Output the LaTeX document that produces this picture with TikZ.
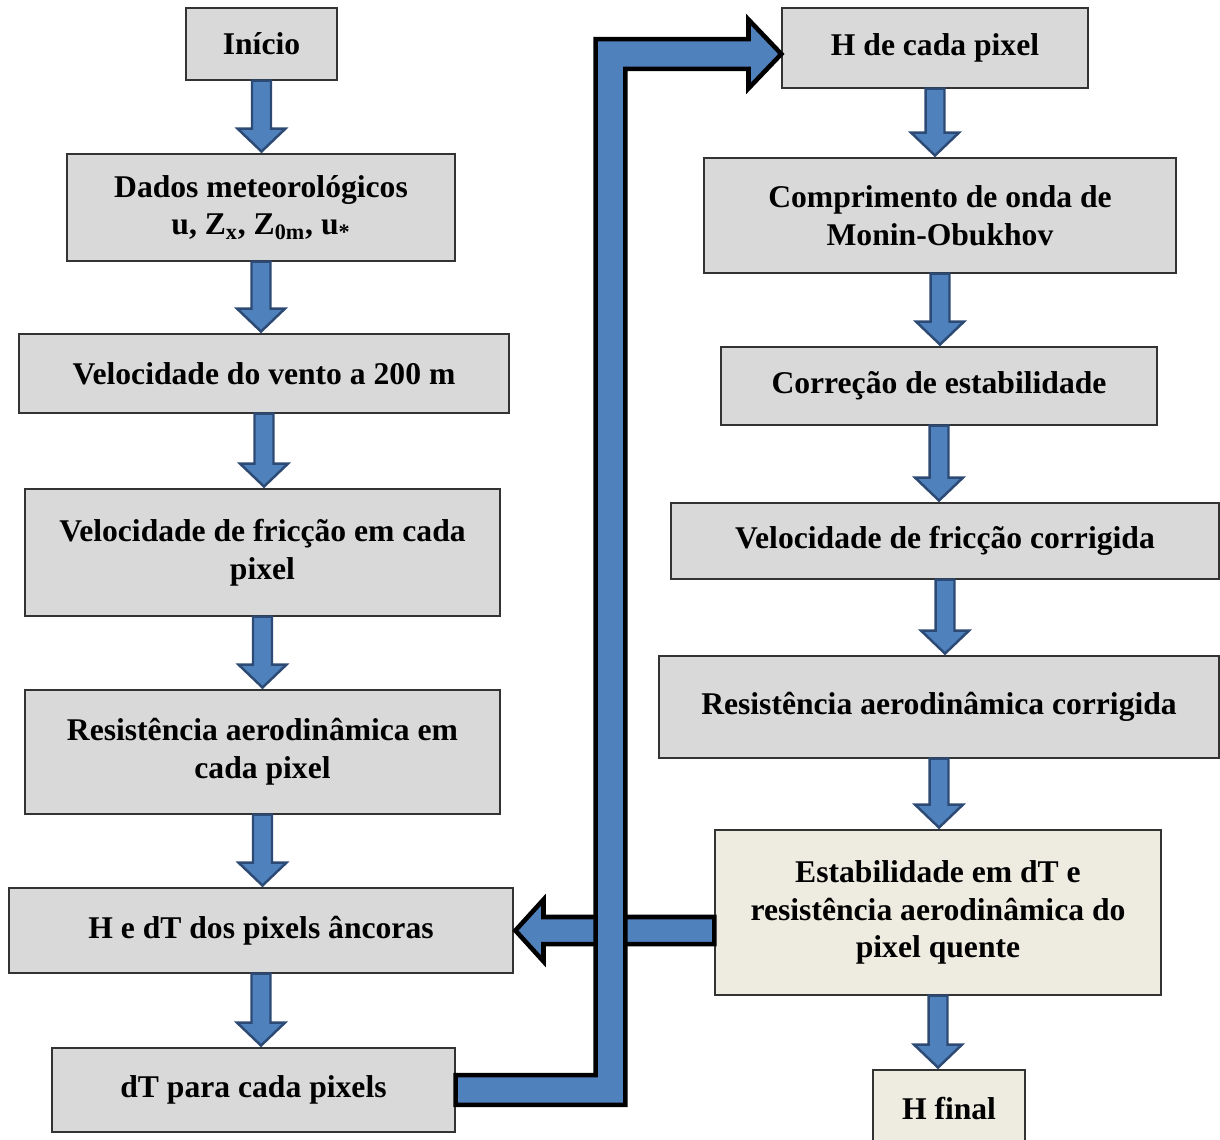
\documentclass[tikz,border=0pt]{standalone}
\usepackage{fontspec}
\setmainfont{Liberation Serif}
\usepackage{tikz}
\usetikzlibrary{positioning, calc}
\definecolor{boxgray}{RGB}{217,217,217}
\definecolor{boxbeige}{RGB}{238,236,225}
\definecolor{arrblue}{RGB}{79,129,189}
\definecolor{arrdark}{RGB}{44,74,116}

\begin{document}
\begin{tikzpicture}[x=0.02cm, y=-0.02cm,
    box/.style={draw=black!80, line width=0.8pt, fill=boxgray, align=center,
      inner sep=0pt, font=\fontsize{18}{21.5}\selectfont\bfseries},
    finalbox/.style={box, fill=boxbeige},
    downarr/.style={draw=arrdark, line width=1.4pt, fill=arrblue, line join=miter},
    bigarr/.style={draw=black, line width=2.6pt, fill=arrblue, line join=miter}]
        \useasboundingbox (0,0) rectangle (1220,1139);
        \clip (0,0) rectangle (1220,1139);

        % left column
        \node[box, minimum width=3.02cm, minimum height=1.44cm] (start) at (261.5,44) {Início};
        \node[box, minimum width=7.76cm, minimum height=2.14cm] (dados) at (261,207.5)
          {Dados meteorológicos\\u, Z\textsubscript{x}, Z\textsubscript{0m}, u\textsubscript{*}};
        \node[box, minimum width=9.8cm, minimum height=1.58cm] (vento) at (264,373.5)
          {Velocidade do vento a 200 m};
        \node[box, minimum width=9.5cm, minimum height=2.54cm] (friccao) at (262.5,552.5)
          {Velocidade de fricção em cada\\pixel};
        \node[box, minimum width=9.5cm, minimum height=2.48cm] (resist) at (262.5,752)
          {Resistência aerodinâmica em\\cada pixel};
        \node[box, minimum width=10.08cm, minimum height=1.7cm] (ancoras) at (261,930.5)
          {H e dT dos pixels âncoras};
        \node[box, minimum width=8.06cm, minimum height=1.68cm] (dtpix) at (253.5,1090)
          {dT para cada pixels};

        % right column
        \node[box, minimum width=6.12cm, minimum height=1.6cm] (hpix) at (935,48)
          {H de cada pixel};
        \node[box, minimum width=9.44cm, minimum height=2.3cm] (monin) at (940,215.5)
          {Comprimento de onda de\\Monin-Obukhov};
        \node[box, minimum width=8.72cm, minimum height=1.56cm] (correcao) at (939,386)
          {Correção de estabilidade};
        \node[box, minimum width=10.96cm, minimum height=1.52cm] (velcorr) at (945,541)
          {Velocidade de fricção corrigida};
        \node[box, minimum width=11.2cm, minimum height=2.04cm] (rescorr) at (939,707)
          {Resistência aerodinâmica corrigida};
        \node[finalbox, minimum width=8.92cm, minimum height=3.3cm] (estab) at (938,912.5)
          {Estabilidade em dT e\\resistência aerodinâmica do\\pixel quente};
        \node[finalbox, minimum width=3.04cm, minimum height=1.64cm] (hfinal) at (949,1111)
          {\raisebox{3pt}{H final}};

        % block arrows down each column
        \foreach \a/\b in {start/dados, dados/vento, vento/friccao, friccao/resist,
                           resist/ancoras, ancoras/dtpix, hpix/monin, monin/correcao,
                           correcao/velcorr, velcorr/rescorr, rescorr/estab, estab/hfinal}{
          \draw[downarr] let \p1=(\a.south), \p2=(\b.north) in
            (\x1-5.4pt,\y1) -- (\x1+5.4pt,\y1) -- (\x1+5.4pt,\y2+14pt)
            -- (\x1+13.6pt,\y2+14pt) -- (\x1,\y2+1pt) -- (\x1-13.6pt,\y2+14pt)
            -- (\x1-5.4pt,\y2+14pt) -- cycle;
        }

        % return arrow from hot pixel box to anchor pixels
        \draw[bigarr] let \p1=(ancoras.east), \p2=(estab.west) in
          (\x2,\y1+7.7pt) -- (\x1+17pt,\y1+7.7pt) -- (\x1+17pt,\y1+17.6pt)
          -- (\x1+1pt,\y1) -- (\x1+17pt,\y1-17.6pt) -- (\x1+17pt,\y1-7.7pt)
          -- (\x2,\y1-7.7pt) -- cycle;

        % long connector dT -> H de cada pixel
        \coordinate (bend) at (610.5,0);
        \coordinate (htip) at ($(hpix.west)+(0,6)$);
        \draw[bigarr] let \p1=(dtpix.east), \p2=(htip), \p3=(bend) in
          (\x1,\y1+8.5pt) -- (\x1,\y1-8.5pt) -- (\x3+8.5pt,\y1-8.5pt)
          -- (\x3+8.5pt,\y2-8.5pt) -- (\x2-18.7pt,\y2-8.5pt) -- (\x2-18.7pt,\y2-19.6pt)
          -- (\x2,\y2) -- (\x2-18.7pt,\y2+19.6pt) -- (\x2-18.7pt,\y2+8.5pt)
          -- (\x3-8.5pt,\y2+8.5pt) -- (\x3-8.5pt,\y1+8.5pt) -- cycle;
\end{tikzpicture}
\end{document}
